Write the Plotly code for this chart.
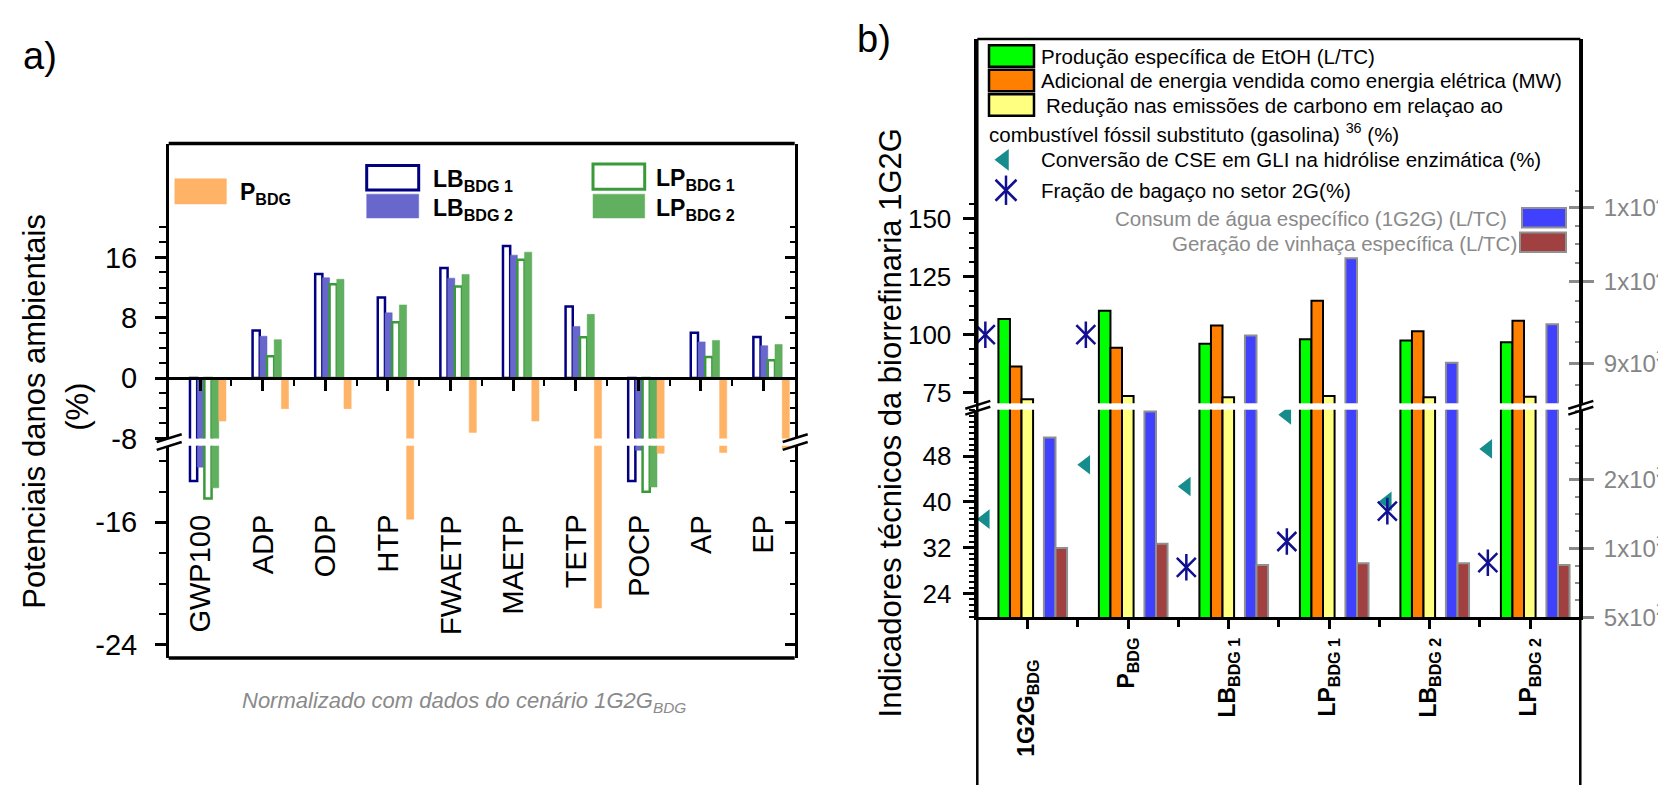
import numpy as np
import plotly.graph_objects as go

W, H = 1666, 793
FONT = "Liberation Sans, Arial, sans-serif"

# ---------------- Panel a data ----------------
cats_a = ["GWP100", "ADP", "ODP", "HTP", "FWAETP", "MAETP", "TETP", "POCP", "AP", "EP"]
lb_bdg1 = [-13.3, 6.3, 13.8, 10.7, 14.6, 17.5, 9.5, -13.3, 6.0, 5.45]
lb_bdg2 = [-12.4, 5.55, 13.3, 8.65, 13.25, 16.3, 6.85, -11.3, 4.8, 4.3]
lp_bdg1 = [-14.45, 2.9, 12.45, 7.4, 12.15, 15.7, 5.4, -14.0, 2.8, 2.35]
lp_bdg2 = [-13.75, 5.1, 13.1, 9.7, 13.75, 16.7, 8.45, -13.7, 5.0, 4.45]
p_bdg = [-5.7, -4.05, -4.05, -15.8, -7.2, -5.7, -21.6, -11.5, -11.45, -11.2]
ticks_a_upper = [-8, 0, 8, 16]
ticktext_a_upper = ["-8", "0", "8", "16"]
ticks_a_lower = [-16, -24]
ticktext_a_lower = ["-16", "-24"]

# ---------------- Panel b data ----------------
cats_b = ["1G2G<sub>BDG</sub>", "P<sub>BDG</sub>", "LB<sub>BDG 1</sub>",
          "LP<sub>BDG 1</sub>", "LB<sub>BDG 2</sub>", "LP<sub>BDG 2</sub>"]
etoh = [106.8, 110.3, 96.1, 98.0, 97.5, 96.8]
energia = [86.3, 94.4, 104.0, 114.6, 101.5, 106.0]
carbono = [72.2, 73.6, 73.1, 73.6, 73.1, 73.3]
agua = [1810, 2000, 9331, 10308, 9010, 9466]
vinhaca = [1005, 1036, 881, 893, 893, 881]
conversao = [37.0, 46.5, 42.7, 55.2, 40.1, 49.25]
fracao_bagaco = [100, 100, 28.6, 33.1, 38.4, 29.4]
ticks_b_upper = [75, 100, 125, 150]
ticks_b_lower = [24, 32, 40, 48]
ticks_r_lower = [500, 1000, 1500]
ticktext_r_lower = ["5x10<sup>2</sup>", "1x10<sup>3</sup>", "2x10<sup>3</sup>"]
ticks_r_upper = [9000, 10000, 11000]
ticktext_r_upper = ["9x10<sup>3</sup>", "1x10<sup>4</sup>", "1x10<sup>4</sup>"]


def px(x):
    return x / W


def py(y):
    return 1 - y / H


fig = go.Figure()

# ---------- panel a bars ----------
xa = np.arange(len(cats_a))
series_a = [
    (lb_bdg1, dict(color="white", line=dict(color="#000080", width=2.5))),
    (lb_bdg2, dict(color="#6868cc", line=dict(color="#5a5ac0", width=0.5))),
    (lp_bdg1, dict(color="white", line=dict(color="#3a9a3a", width=2.5))),
    (lp_bdg2, dict(color="#60b060", line=dict(color="#58a858", width=0.5))),
    (p_bdg, dict(color="#ffb366", line=dict(color="#ffb366", width=0.5))),
]
offs_a = [-0.16, -0.045, 0.07, 0.185, 0.30]
for (vals, mk), off in zip(series_a, offs_a):
    for xax, yax in (("x", "y"), ("x2", "y2")):
        fig.add_trace(go.Bar(x=xa, y=vals, xaxis=xax, yaxis=yax, width=0.115,
                             offset=off, marker=mk, showlegend=False, hoverinfo="skip"))

# ---------- panel b bars ----------
xb = np.arange(len(cats_b))
bw = 0.115
left_series = [
    (etoh, "#00ff00", -0.29),
    (energia, "#ff8000", -0.175),
    (carbono, "#ffff80", -0.06),
]
for vals, col, off in left_series:
    for xax, yax in (("x3", "y5"), ("x4", "y6")):
        fig.add_trace(go.Bar(x=xb, y=vals, xaxis=xax, yaxis=yax, width=bw, offset=off,
                             marker=dict(color=col, line=dict(color="black", width=2)),
                             showlegend=False, hoverinfo="skip"))
right_series = [
    (agua, "#4040ff", 0.163),
    (vinhaca, "#a04040", 0.278),
]
for vals, col, off in right_series:
    for xax, yax in (("x3", "y7"), ("x4", "y8")):
        fig.add_trace(go.Bar(x=xb, y=vals, xaxis=xax, yaxis=yax, width=bw, offset=off,
                             marker=dict(color=col, line=dict(color="#909090", width=2)),
                             showlegend=False, hoverinfo="skip"))

# markers
mk_off = -0.42
for xax, yax in (("x3", "y5"), ("x4", "y6")):
    fig.add_trace(go.Scatter(x=xb + mk_off, y=conversao, xaxis=xax, yaxis=yax, mode="markers",
                             marker=dict(symbol="triangle-left", size=17, color="#168c8c"),
                             showlegend=False, hoverinfo="skip"))
    for sym in ("line-ns-open", "x-thin-open"):
        fig.add_trace(go.Scatter(x=xb + mk_off, y=fracao_bagaco, xaxis=xax, yaxis=yax, mode="markers",
                                 marker=dict(symbol=sym, size=19, color="#101090",
                                             line=dict(color="#101090", width=2.5)),
                                 showlegend=False, hoverinfo="skip"))

# legend markers (pixel overlay axes)
fig.add_trace(go.Scatter(x=[996], y=[155], xaxis="x9", yaxis="y9", mode="markers",
                         marker=dict(symbol="triangle-left", size=19, color="#168c8c"),
                         showlegend=False, hoverinfo="skip"))
for sym in ("line-ns-open", "x-thin-open"):
    fig.add_trace(go.Scatter(x=[998], y=[186], xaxis="x9", yaxis="y9", mode="markers",
                             marker=dict(symbol=sym, size=21, color="#101090",
                                         line=dict(color="#101090", width=2.5)),
                             showlegend=False, hoverinfo="skip"))

# dummy traces so overlay axes render
for xax, yax in (("x", "y3"), ("x2", "y4"), ("x3", "y10"), ("x4", "y11")):
    fig.add_trace(go.Scatter(x=[None], y=[None], xaxis=xax, yaxis=yax, showlegend=False))

common = dict(showgrid=False, zeroline=False, fixedrange=True)
tf = dict(family=FONT, size=29, color="black")
tfb = dict(family=FONT, size=26, color="black")
tfg = dict(family=FONT, size=24, color="#858585")
GRAY = "#8a8a8a"

xa_dom = [px(160.7), px(786.7)]
xb_dom = [px(969.3), px(1572.3)]

minor_a_up = [v for v in range(-6, 21, 2) if v not in ticks_a_upper]
minor_a_lo = [-12, -14, -18, -20, -22]
minor_b_up = [81.25, 87.5, 93.75, 106.25, 112.5, 118.75, 131.25, 137.5, 143.75, 156.25]
minor_b_lo = [v for v in range(20, 57) if v not in ticks_b_lower]
minor_r_lo = [v for v in range(500, 2001, 125) if v not in ticks_r_lower]
minor_r_up = [8750, 9250, 9500, 9750, 10250, 10500, 10750, 11250]
r_up_range = [np.log10(8551), np.log10(13677)]
r_lo_range = [500, 2012.1]

layout = dict(
    width=W, height=H, margin=dict(l=0, r=0, t=0, b=0),
    paper_bgcolor="white", plot_bgcolor="rgba(0,0,0,0)",
    showlegend=False, barmode="overlay", font=dict(family=FONT),
    # panel a
    xaxis=dict(domain=xa_dom, range=[-0.5, 9.5], anchor="free", position=py(377.7),
               showline=True, linecolor="black", linewidth=2.5, ticks="outside", ticklen=11,
               tickwidth=2.5, tickcolor="black", tickvals=list(xa), showticklabels=False,
               minor=dict(tickvals=list(xa[:-1] + 0.5), ticks="outside", ticklen=6,
                          tickwidth=2, tickcolor="black"), **common),
    xaxis2=dict(domain=xa_dom, range=[-0.5, 9.5], anchor="y2", visible=False, **common),
    yaxis=dict(domain=[py(439.3), py(138.3)], range=[-8, 31.1], anchor="x", side="left",
               showline=True, linecolor="black", linewidth=2.5, ticks="outside", ticklen=11,
               tickwidth=2.5, tickcolor="black", tickvals=ticks_a_upper,
               ticktext=ticktext_a_upper, tickfont=tf, ticklabelstandoff=12,
               minor=dict(tickvals=minor_a_up, ticks="outside", ticklen=7, tickwidth=2,
                          tickcolor="black"), **common),
    yaxis2=dict(domain=[py(663.3), py(446.7)], range=[-24.85, -11], anchor="x2", side="left",
                showline=True, linecolor="black", linewidth=2.5, ticks="outside", ticklen=11,
                tickwidth=2.5, tickcolor="black", tickvals=ticks_a_lower,
                ticktext=ticktext_a_lower, tickfont=tf, ticklabelstandoff=12,
                minor=dict(tickvals=minor_a_lo, ticks="outside", ticklen=7, tickwidth=2,
                           tickcolor="black"), **common),
    yaxis3=dict(overlaying="y", side="right", anchor="x", range=[-8, 31.1], showline=True,
                linecolor="black", linewidth=2.5, ticks="inside", ticklen=10, tickwidth=2.5,
                tickcolor="black", tickvals=ticks_a_upper, showticklabels=False,
                minor=dict(tickvals=minor_a_up, ticks="inside", ticklen=5, tickwidth=2,
                           tickcolor="black"), **common),
    yaxis4=dict(overlaying="y2", side="right", anchor="x2", range=[-24.85, -11], showline=True,
                linecolor="black", linewidth=2.5, ticks="inside", ticklen=10, tickwidth=2.5,
                tickcolor="black", tickvals=ticks_a_lower, showticklabels=False,
                minor=dict(tickvals=minor_a_lo, ticks="inside", ticklen=5, tickwidth=2,
                           tickcolor="black"), **common),
    # panel b
    xaxis3=dict(domain=xb_dom, range=[-0.5, 5.5], anchor="y5", showline=True, linecolor="black",
                linewidth=3, ticks="outside", ticklen=9, tickwidth=2.5, tickcolor="black",
                tickvals=list(xb), showticklabels=False,
                minor=dict(tickvals=list(xb[:-1] + 0.5), ticks="outside", ticklen=7,
                           tickwidth=2.5, tickcolor="black"), **common),
    xaxis4=dict(domain=xb_dom, range=[-0.5, 5.5], anchor="y6", visible=False, **common),
    yaxis5=dict(domain=[py(621.7), py(410)], range=[19.9, 56.09], anchor="x3", side="left",
                showline=True, linecolor="black", linewidth=2.5, ticks="outside", ticklen=12,
                tickwidth=2.5, tickcolor="black", tickvals=ticks_b_lower, tickfont=tfb,
                ticklabelstandoff=6,
                minor=dict(tickvals=minor_b_lo, ticks="outside", ticklen=6, tickwidth=2,
                           tickcolor="black"), **common),
    yaxis6=dict(domain=[py(403.3), py(31.7)], range=[70.53, 227.25], anchor="x4", side="left",
                showline=True, linecolor="black", linewidth=2.5, ticks="outside", ticklen=12,
                tickwidth=2.5, tickcolor="black", tickvals=ticks_b_upper, tickfont=tfb,
                ticklabelstandoff=6,
                minor=dict(tickvals=minor_b_up, ticks="outside", ticklen=6, tickwidth=2,
                           tickcolor="black"), **common),
    yaxis7=dict(overlaying="y5", side="right", anchor="x3", range=r_lo_range, showline=True,
                linecolor="black", linewidth=2.5, ticks="outside", ticklen=11, tickwidth=2.5,
                tickcolor=GRAY, tickvals=ticks_r_lower, ticktext=ticktext_r_lower,
                tickfont=tfg, ticklabelstandoff=5,
                minor=dict(tickvals=minor_r_lo, ticks="inside", ticklen=6, tickwidth=2,
                           tickcolor=GRAY), **common),
    yaxis8=dict(overlaying="y6", side="right", anchor="x4", type="log",
                range=r_up_range, showline=True, linecolor="black",
                linewidth=2.5, ticks="outside", ticklen=11, tickwidth=2.5, tickcolor=GRAY,
                tickvals=ticks_r_upper, ticktext=ticktext_r_upper, tickfont=tfg,
                ticklabelstandoff=5,
                minor=dict(tickmode="array", tickvals=minor_r_up, ticks="inside", ticklen=6,
                           tickwidth=2, tickcolor=GRAY), **common),
    # inner halves of the crossing major ticks on the right axis of panel b
    yaxis10=dict(overlaying="y5", side="right", anchor="x3", range=r_lo_range, showline=False,
                 ticks="inside", ticklen=11, tickwidth=2.5, tickcolor=GRAY,
                 tickvals=ticks_r_lower, showticklabels=False, **common),
    yaxis11=dict(overlaying="y6", side="right", anchor="x4", type="log", range=r_up_range,
                 showline=False, ticks="inside", ticklen=11, tickwidth=2.5, tickcolor=GRAY,
                 tickvals=ticks_r_upper, showticklabels=False, **common),
    # pixel overlay
    xaxis9=dict(domain=[0, 1], range=[0, W], anchor="y9", visible=False, **common),
    yaxis9=dict(domain=[0, 1], range=[H, 0], anchor="x9", visible=False, **common),
)
fig.update_layout(**layout)

shapes = []


def line(x0, y0, x1, y1, color="black", width=2.5):
    shapes.append(dict(type="line", xref="x9", yref="y9", x0=x0, y0=y0, x1=x1, y1=y1,
                       line=dict(color=color, width=width), layer="above"))


def rect(x0, y0, x1, y1, fill, lcolor="black", lwidth=2.5):
    shapes.append(dict(type="rect", xref="x9", yref="y9", x0=x0, y0=y0, x1=x1, y1=y1,
                       fillcolor=fill, line=dict(color=lcolor, width=lwidth), layer="above"))


# panel a frame
line(160.7, 138.3, 786.7, 138.3, width=3.5)
line(160.7, 663.3, 786.7, 663.3, width=3.5)
# break marks panel a
for bx in (160.7, 786.7):
    line(bx - 12, 443, bx + 13, 435)
    line(bx - 12, 451, bx + 13, 443)
# panel b frame
line(969.3, 31.7, 1572.3, 31.7, width=2.5)
line(969.3, 31.7, 969.3, 800, width=2.5)
line(1572.3, 31.7, 1572.3, 800, width=2.5)
for bx in (969.3, 1572.3):
    line(bx - 12, 409, bx + 13, 401)
    line(bx - 12, 415, bx + 13, 407)

# panel a legend boxes
rect(166.8, 174.3, 218.4, 200, "#ffb366", lcolor="#ffb366", lwidth=0.5)
rect(358.7, 160.7, 410.7, 185.7, "white", lcolor="#000080", lwidth=3)
rect(358.7, 190, 410.7, 214.3, "#6868cc", lcolor="#6868cc", lwidth=0.5)
rect(585, 159.3, 636.7, 185, "white", lcolor="#3a9a3a", lwidth=3)
rect(585, 190, 636.7, 214.3, "#60b060", lcolor="#60b060", lwidth=0.5)

# panel b legend boxes
rect(981, 38, 1026, 60, "#00ff00")
rect(981, 63, 1026, 85, "#ff8000")
rect(981, 88, 1026, 110, "#ffff80")
rect(1514, 204, 1558, 224, "#4040ff", lcolor="#909090", lwidth=2)
rect(1512, 229, 1558, 249, "#a04040", lcolor="#909090", lwidth=2)

fig.update_layout(shapes=shapes)

anns = []


def ann(x, y, text, size, color="black", xanchor="left", yanchor="middle", angle=0,
        xref="x9", yref="y9"):
    anns.append(dict(x=x, y=y, xref=xref, yref=yref, text=text, showarrow=False,
                     xanchor=xanchor, yanchor=yanchor, textangle=angle,
                     font=dict(family=FONT, size=size, color=color)))


ann(32, 49, "a)", 38, xanchor="center")
ann(866, 32, "b)", 38, xanchor="center")

# panel a titles
ann(27, 412, "Potenciais danos ambientais", 31, xanchor="center", angle=-90)
ann(70, 407, "(%)", 31, xanchor="center", angle=-90)
ann(232, 708, "<i>Normalizado com dados do cenário 1G2G<sub>BDG</sub></i>", 22, color="#8a8a8a")

# panel a category labels
for i, c in enumerate(cats_a):
    ann(i, 515, c, 29, xanchor="center", yanchor="top", angle=-90, xref="x")

# panel a legend text
ann(230, 189, "<b>P<sub>BDG</sub></b>", 23)
ann(423, 176, "<b>LB<sub>BDG 1</sub></b>", 23)
ann(423, 206, "<b>LB<sub>BDG 2</sub></b>", 23)
ann(646, 175, "<b>LP<sub>BDG 1</sub></b>", 23)
ann(646, 206, "<b>LP<sub>BDG 2</sub></b>", 23)

# panel b title
ann(882, 424, "Indicadores técnicos da biorrefinaria 1G2G", 31, xanchor="center", angle=-90)

# panel b category labels
for i, c in enumerate(cats_b):
    ann(i, 663 if i == 0 else 641, "<b>" + c + "</b>", 23, xanchor="center", yanchor="top",
        angle=-90, xref="x3")

# panel b legend text
ann(1031, 49, "Produção específica de EtOH (L/TC)", 20.5)
ann(1031, 74, "Adicional de energia vendida como energia elétrica (MW)", 20.5)
ann(1036, 99, "Redução nas emissões de carbono em relaçao ao", 20.5)
ann(979, 128, "combustível fóssil substituto (gasolina) <sup>36</sup> (%)", 20.5)
ann(1031, 155, "Conversão de CSE em GLI na hidrólise enzimática (%)", 20.5)
ann(1031, 186, "Fração de bagaço no setor 2G(%)", 20.5)
ann(1105, 215, "Consum de água específico (1G2G) (L/TC)", 20.5, color="#8a8a8a")
ann(1162, 240, "Geração de vinhaça específica (L/TC)", 20.5, color="#8a8a8a")

fig.update_layout(annotations=anns)
fig.write_html("out.html")
